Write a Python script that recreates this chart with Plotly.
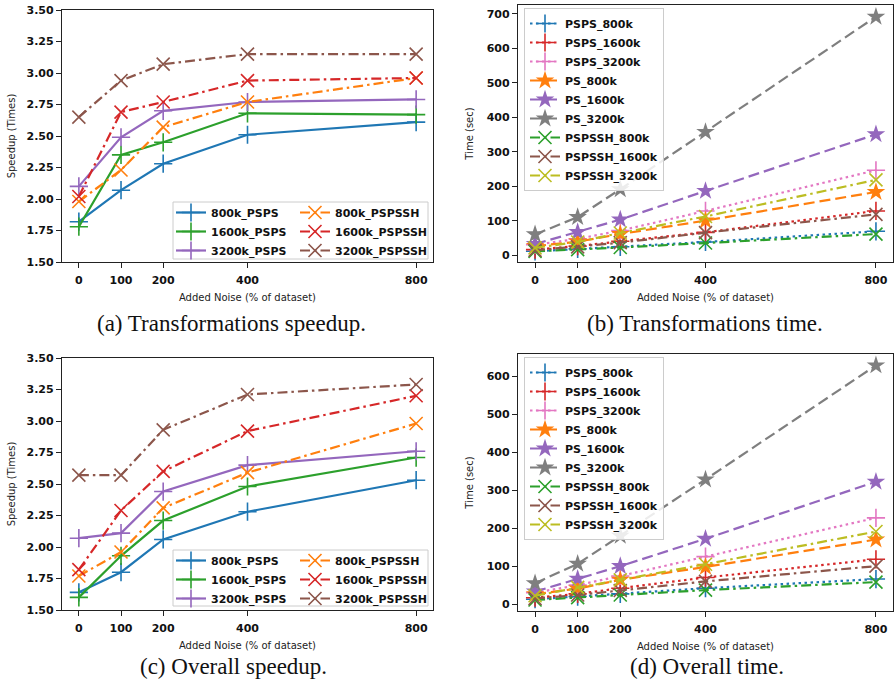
import plotly.graph_objects as go

# ---------------- data ----------------
noise = [0, 100, 200, 400, 800]
x_tick_vals = [0, 100, 200, 400, 800]
x_tick_text = ["0", "100", "200", "400", "800"]
speed_tick_vals = [1.50, 1.75, 2.00, 2.25, 2.50, 2.75, 3.00, 3.25, 3.50]
time_tick_vals_b = [0, 100, 200, 300, 400, 500, 600, 700]
time_tick_vals_d = [0, 100, 200, 300, 400, 500, 600]

# (a) Transformations speedup
a_800k_psps = [1.82, 2.07, 2.28, 2.51, 2.61]
a_1600k_psps = [1.78, 2.35, 2.45, 2.68, 2.67]
a_3200k_psps = [2.10, 2.49, 2.70, 2.77, 2.79]
a_800k_pspssh = [1.98, 2.23, 2.57, 2.77, 2.96]
a_1600k_pspssh = [2.02, 2.69, 2.77, 2.94, 2.96]
a_3200k_pspssh = [2.65, 2.94, 3.07, 3.15, 3.15]

# (c) Overall speedup
c_800k_psps = [1.64, 1.80, 2.06, 2.28, 2.53]
c_1600k_psps = [1.60, 1.93, 2.21, 2.48, 2.71]
c_3200k_psps = [2.07, 2.11, 2.44, 2.65, 2.76]
c_800k_pspssh = [1.77, 1.96, 2.31, 2.59, 2.98]
c_1600k_pspssh = [1.82, 2.29, 2.60, 2.92, 3.20]
c_3200k_pspssh = [2.57, 2.57, 2.93, 3.21, 3.29]

# (b) Transformations time (sec)
b_psps_800k = [12, 19, 25, 39, 70]
b_psps_1600k = [17, 27, 41, 67, 129]
b_psps_3200k = [31, 48, 72, 129, 247]
b_ps_800k = [27, 40, 62, 101, 184]
b_ps_1600k = [33, 68, 104, 187, 351]
b_ps_3200k = [61, 111, 192, 358, 692]
b_pspssh_800k = [12, 17, 23, 36, 62]
b_pspssh_1600k = [15, 25, 37, 66, 119]
b_pspssh_3200k = [22, 39, 65, 113, 219]

# (d) Overall time (sec)
d_psps_800k = [13, 20, 27, 42, 66]
d_psps_1600k = [17, 27, 42, 70, 118]
d_psps_3200k = [30, 50, 74, 125, 227]
d_ps_800k = [26, 41, 64, 98, 170]
d_ps_1600k = [33, 67, 100, 172, 322]
d_ps_3200k = [55, 106, 180, 328, 628]
d_pspssh_800k = [11, 17, 24, 37, 58]
d_pspssh_1600k = [15, 24, 36, 60, 100]
d_pspssh_3200k = [22, 44, 64, 105, 191]

speed_names = ["800k_PSPS", "1600k_PSPS", "3200k_PSPS",
               "800k_PSPSSH", "1600k_PSPSSH", "3200k_PSPSSH"]
time_names = ["PSPS_800k", "PSPS_1600k", "PSPS_3200k",
              "PS_800k", "PS_1600k", "PS_3200k",
              "PSPSSH_800k", "PSPSSH_1600k", "PSPSSH_3200k"]

# ---------------- styles ----------------
C = ["#1f77b4", "#ff7f0e", "#2ca02c", "#d62728", "#9467bd",
     "#8c564b", "#e377c2", "#7f7f7f", "#bcbd22"]
DOT = "2.5px,3.5px"
DASH = "11px,5px"
DASHDOT = "10px,4px,2.5px,4px"

speed_styles = [
    (C[0], "solid", "cross-thin"), (C[2], "solid", "cross-thin"), (C[4], "solid", "cross-thin"),
    (C[1], DASHDOT, "x-thin"), (C[3], DASHDOT, "x-thin"), (C[5], DASHDOT, "x-thin"),
]
time_styles = [
    (C[0], DOT, "cross-thin"), (C[3], DOT, "cross-thin"), (C[6], DOT, "cross-thin"),
    (C[1], DASH, "star"), (C[4], DASH, "star"), (C[7], DASH, "star"),
    (C[2], DASHDOT, "x-thin"), (C[5], DASHDOT, "x-thin"), (C[8], DASHDOT, "x-thin"),
]

fig = go.Figure()


def add_series(values, name, style, xa, ya, legend, rank):
    color, dash, sym = style
    if sym == "star":
        marker = dict(symbol="star", size=14, color=color, line=dict(width=0))
    else:
        marker = dict(symbol=sym, size=13, color=color, line=dict(width=1.6, color=color))
    fig.add_trace(go.Scatter(
        x=noise, y=values, name=name, mode="lines+markers",
        line=dict(color=color, width=2.2, dash=dash), marker=marker,
        xaxis=xa, yaxis=ya, legend=legend, legendrank=rank))


a_series = [a_800k_psps, a_1600k_psps, a_3200k_psps, a_800k_pspssh, a_1600k_pspssh, a_3200k_pspssh]
c_series = [c_800k_psps, c_1600k_psps, c_3200k_psps, c_800k_pspssh, c_1600k_pspssh, c_3200k_pspssh]
b_series = [b_psps_800k, b_psps_1600k, b_psps_3200k, b_ps_800k, b_ps_1600k, b_ps_3200k,
            b_pspssh_800k, b_pspssh_1600k, b_pspssh_3200k]
d_series = [d_psps_800k, d_psps_1600k, d_psps_3200k, d_ps_800k, d_ps_1600k, d_ps_3200k,
            d_pspssh_800k, d_pspssh_1600k, d_pspssh_3200k]

# two-column legends of the speedup panels: PSPS column / PSPSSH column
for i, v in enumerate(a_series):
    add_series(v, speed_names[i], speed_styles[i], "x", "y",
               "legend" if i < 3 else "legend5", i + 1)
for i, v in enumerate(b_series):
    add_series(v, time_names[i], time_styles[i], "x2", "y2", "legend2", i + 1)
for i, v in enumerate(c_series):
    add_series(v, speed_names[i], speed_styles[i], "x3", "y3",
               "legend3" if i < 3 else "legend6", i + 1)
for i, v in enumerate(d_series):
    add_series(v, time_names[i], time_styles[i], "x4", "y4", "legend4", i + 1)

W, H = 895, 689
TICKFONT = dict(family="DejaVu Sans", size=11, color="#111", weight="bold")
TITLEFONT = dict(family="DejaVu Sans", size=10, color="#222")


def px_x(a, b):
    return [a / W, b / W]


def px_y(top, bottom):
    return [(H - bottom) / H, (H - top) / H]


def xaxis(domain, anchor):
    return dict(domain=domain, anchor=anchor, range=[-40, 840], automargin=False,
                tickmode="array", tickvals=x_tick_vals, ticktext=x_tick_text,
                showline=True, linecolor="#222", linewidth=1.3, mirror=True,
                ticks="outside", ticklen=5, tickwidth=1.2, tickcolor="#222",
                ticklabelstandoff=3,
                showgrid=False, zeroline=False, tickfont=TICKFONT,
                title=dict(text="Added Noise (% of dataset)", font=TITLEFONT, standoff=7))


def yaxis(domain, anchor, rng, vals, fmt, title, standoff):
    return dict(domain=domain, anchor=anchor, range=rng, automargin=False,
                tickmode="array", tickvals=vals,
                ticktext=[format(v, fmt) for v in vals],
                showline=True, linecolor="#222", linewidth=1.3, mirror=True,
                ticks="outside", ticklen=5, tickwidth=1.2, tickcolor="#222",
                showgrid=False, zeroline=False, tickfont=TICKFONT,
                title=dict(text=title, font=TITLEFONT, standoff=standoff))


LEGFONT = dict(family="DejaVu Sans", size=11, color="#111", weight="bold")
legend_boxed = dict(bgcolor="rgba(255,255,255,0.85)", bordercolor="#cccccc",
                    borderwidth=1, font=LEGFONT, xanchor="left", yanchor="top",
                    orientation="v")
legend_bare = dict(bgcolor="rgba(0,0,0,0)", borderwidth=0, font=LEGFONT,
                   xanchor="left", yanchor="top", orientation="v")

fig.update_layout(
    template="none",
    width=W, height=H, paper_bgcolor="white", plot_bgcolor="white",
    margin=dict(l=0, r=0, t=0, b=0, autoexpand=False),
    xaxis=xaxis(px_x(62, 433), "y"),
    yaxis=yaxis(px_y(10, 262), "x", [1.5, 3.5], speed_tick_vals, ".2f", "Speedup (Times)", 9),
    xaxis2=xaxis(px_x(518, 893), "y2"),
    yaxis2=yaxis(px_y(5, 262), "x2", [-19, 726], time_tick_vals_b, "d", "Time (sec)", 11),
    xaxis3=xaxis(px_x(62, 433), "y3"),
    yaxis3=yaxis(px_y(358, 610), "x3", [1.5, 3.5], speed_tick_vals, ".2f", "Speedup (Times)", 9),
    xaxis4=xaxis(px_x(518, 893), "y4"),
    yaxis4=yaxis(px_y(354, 611), "x4", [-18, 658], time_tick_vals_d, "d", "Time (sec)", 11),
    legend=dict(legend_bare, x=171 / W, y=(H - 198) / H),
    legend5=dict(legend_bare, x=295 / W, y=(H - 198) / H),
    legend3=dict(legend_bare, x=171 / W, y=(H - 546) / H),
    legend6=dict(legend_bare, x=295 / W, y=(H - 546) / H),
    legend2=dict(legend_boxed, x=524 / W, y=(H - 8) / H),
    legend4=dict(legend_boxed, x=524 / W, y=(H - 357) / H),
    showlegend=True,
)

# frames of the two-column legends
for top, bottom in [(202, 259), (550, 606)]:
    fig.add_shape(type="rect", xref="paper", yref="paper",
                  x0=173 / W, x1=428 / W, y0=(H - bottom) / H, y1=(H - top) / H,
                  line=dict(color="#cccccc", width=1),
                  fillcolor="rgba(255,255,255,0.85)", layer="above")

captions = [("(a) Transformations speedup.", 231, 323),
            ("(b) Transformations time.", 705, 323),
            ("(c) Overall speedup.", 233, 666),
            ("(d) Overall time.", 707, 666)]
for text, cx, cy in captions:
    fig.add_annotation(text=text, x=cx / W, y=(H - cy) / H, xref="paper", yref="paper",
                       xanchor="center", yanchor="middle", showarrow=False,
                       font=dict(family="Liberation Serif", size=23, color="#111"))

fig.write_html("out.html", config={"displayModeBar": False},
               post_script="document.body.style.margin='0';")
